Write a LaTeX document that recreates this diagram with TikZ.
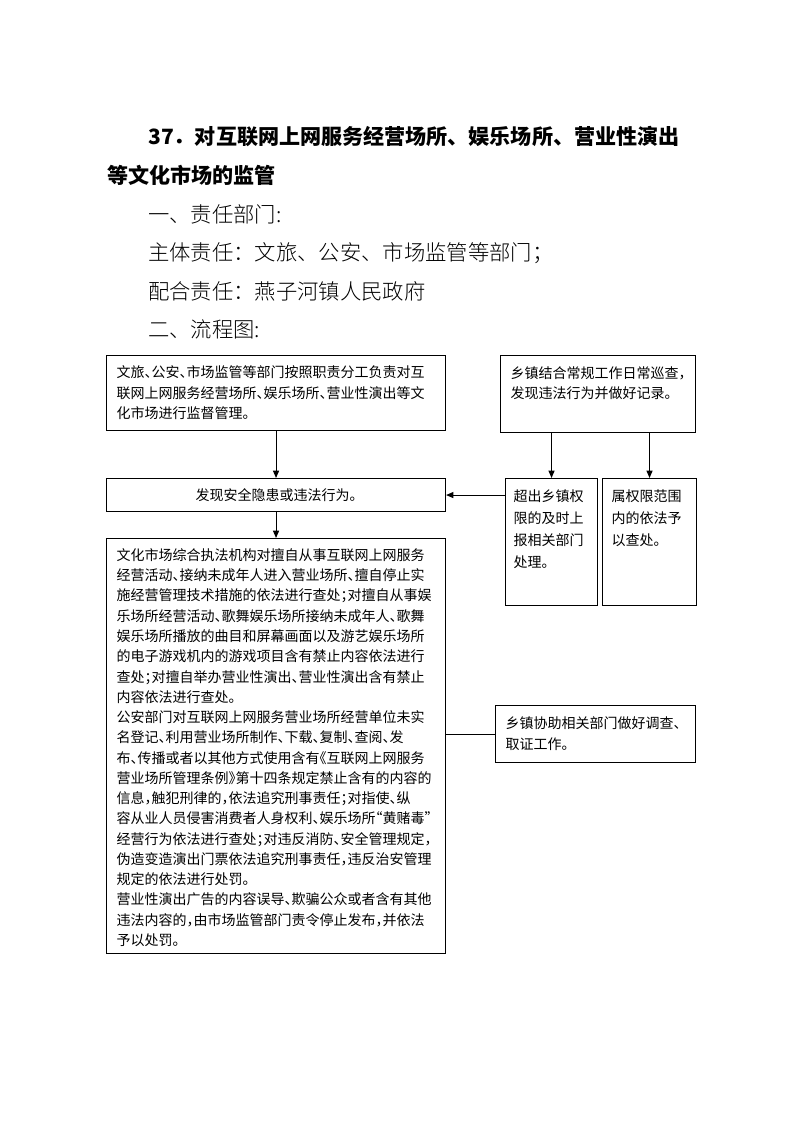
\documentclass[tikz,border=0pt]{standalone}
\usepackage{fontspec}
\usepackage{graphicx}
\usetikzlibrary{arrows.meta}
\newfontfamily\cjk[RawFeature=+halt]{Noto Sans CJK SC}
\newfontfamily\cjkf{Noto Sans CJK SC}
\IfFontExistsTF{Noto Sans CJK SC Light}{\newfontfamily\cjkl{Noto Sans CJK SC Light}}{\let\cjkl\cjkf}
\newdimen\px \px=0.75pt
\newdimen\flw
\newsavebox\flbox
\newcommand\fl[1]{\sbox\flbox{#1}\ifdim\wd\flbox>\flw\resizebox{\flw}{\height}{\usebox\flbox}\else\usebox\flbox\fi}
\newcommand\tb[4]{\parbox[c][#1\px][t]{#2\px}{\vspace*{#3\px}#4}}
\tikzset{
  box/.style={draw, line width=0.8pt, anchor=north west, inner ysep=0pt, align=left},
  bfont/.style={font={\cjk\fontsize{10.5pt}{#1}\selectfont}},
  arr/.style={line width=0.8pt, -{Triangle[length=5.5pt,width=4.5pt]}},
  lin/.style={line width=0.8pt},
  ttl/.style={anchor=west, inner sep=0pt, font={\cjkf\bfseries\fontsize{15.8pt}{20pt}\selectfont}},
  hd/.style={anchor=west, inner sep=0pt, font={\cjkl\fontsize{16pt}{20pt}\selectfont}}
}
\begin{document}
\begin{tikzpicture}[x=0.75pt,y=-0.75pt]
\useasboundingbox (0,0) rectangle (793,1122);
% title and headings
\node[ttl] (t1) at (148,137) {37．对互联网上网服务经营场所、娱乐场所、营业性演出};
\node[ttl] (t2) at (107,175) {等文化市场的监管};
\node[hd] (h1) at (148,214) {一、责任部门:};
\node[hd] (h2) at (148,253) {主体责任：文旅、公安、市场监管等部门；};
\node[hd] (h3) at (148,291) {配合责任：燕子河镇人民政府};
\node[hd] (h4) at (148,329) {二、流程图:};
% boxes
\node[box, bfont=15.4pt, inner xsep=10\px, text width=319\px, minimum height=75\px] (b1) at (106,355)
  {文旅、公安、市场监管等部门按照职责分工负责对互\\联网上网服务经营场所、娱乐场所、营业性演出等文\\化市场进行监督管理。};
\node[box, bfont=15pt, inner xsep=10\px] (rb) at (500,355)
  {\tb{77}{175}{11}{乡镇结合常规工作日常巡查，\\发现违法行为并做好记录。}};
\node[box, bfont=15pt, inner xsep=10\px, text width=319\px, minimum height=33\px, align=center] (fx) at (106,478)
  {发现安全隐患或违法行为。};
\node[box, bfont=16.5pt, inner xsep=8\px] (s1) at (505,478)
  {\tb{127}{76}{11}{超出乡镇权\\限的及时上\\报相关部门\\处理。}};
\node[box, bfont=16.5pt, inner xsep=9\px] (s2) at (602,478)
  {\tb{127}{76}{11}{属权限范围\\内的依法予\\以查处。}};
\node[box, bfont=15.2pt, inner xsep=10\px] (big) at (106,538)
  {\flw=320\px\tb{415}{319}{10}{%
\fl{文化市场综合执法机构对擅自从事互联网上网服务}\\
\fl{经营活动、接纳未成年人进入营业场所、擅自停止实}\\
\fl{施经营管理技术措施的依法进行查处；对擅自从事娱}\\
\fl{乐场所经营活动、歌舞娱乐场所接纳未成年人、歌舞}\\
\fl{娱乐场所播放的曲目和屏幕画面以及游艺娱乐场所}\\
\fl{的电子游戏机内的游戏项目含有禁止内容依法进行}\\
\fl{查处；对擅自举办营业性演出、营业性演出含有禁止}\\
\fl{内容依法进行查处。}\\
\fl{公安部门对互联网上网服务营业场所经营单位未实}\\
\fl{名登记、利用营业场所制作、下载、复制、查阅、发}\\
\fl{布、传播或者以其他方式使用含有《互联网上网服务}\\
\fl{营业场所管理条例》第十四条规定禁止含有的内容的}\\
\fl{信息，触犯刑律的，依法追究刑事责任；对指使、纵}\\
\fl{容从业人员侵害消费者人身权利、娱乐场所“黄赌毒”}\\
\fl{经营行为依法进行查处；对违反消防、安全管理规定，}\\
\fl{伪造变造演出门票依法追究刑事责任，违反治安管理}\\
\fl{规定的依法进行处罚。}\\
\fl{营业性演出广告的内容误导、欺骗公众或者含有其他}\\
\fl{违法内容的，由市场监管部门责令停止发布，并依法}\\
\fl{予以处罚。}}};
\node[box, bfont=15.8pt, inner xsep=10\px, text width=180\px, minimum height=57\px] (xz) at (495,705)
  {乡镇协助相关部门做好调查、\\取证工作。};
% connectors
\draw[arr] (b1.south) -- (fx.north);
\draw[arr] (fx.south) -- (big.north);
\draw[arr] (s1.north |- rb.south) -- (s1.north);
\draw[arr] (s2.north |- rb.south) -- (s2.north);
\draw[arr] (s1.west |- fx.east) -- (fx.east);
\draw[lin] (xz.west) -- (xz.west -| big.east);
\end{tikzpicture}
\end{document}
